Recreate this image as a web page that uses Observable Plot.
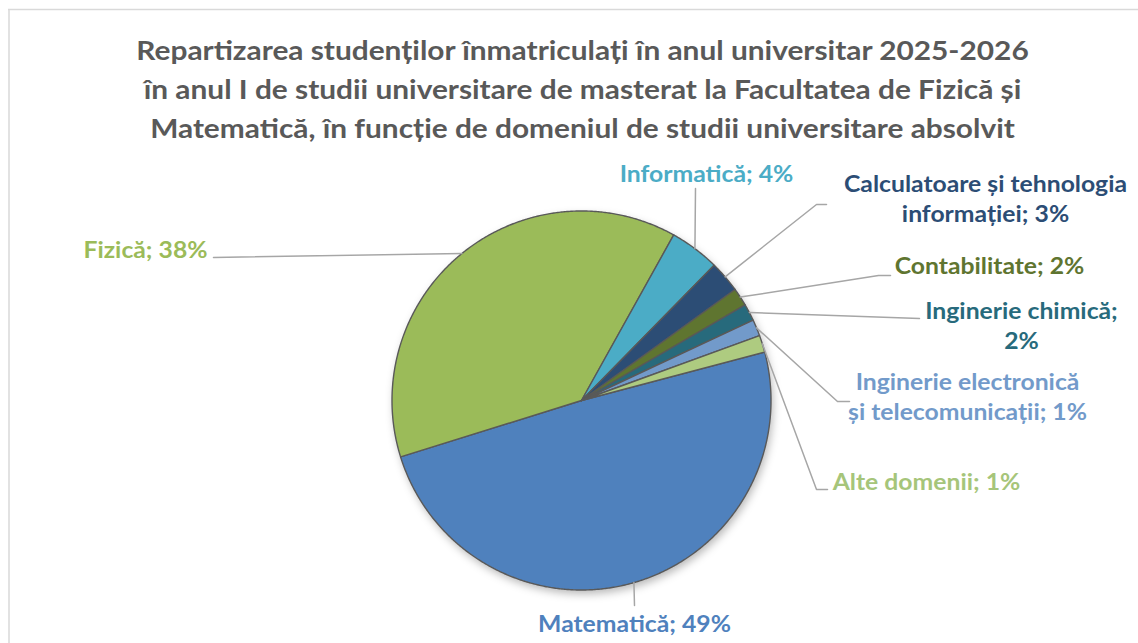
<!DOCTYPE html>
<html>
<head>
<meta charset="utf-8">
<script src="https://cdn.jsdelivr.net/npm/d3@7"></script>
<script src="https://cdn.jsdelivr.net/npm/@observablehq/plot@0.6"></script>
<style>
  html, body { margin: 0; padding: 0; background: #fff; }
  #chart svg { display: block; }
</style>
</head>
<body>
<div id="chart"></div>
<script>
// ---------------- DATA ----------------
const categories = [
  "Matematică",
  "Fizică",
  "Informatică",
  "Calculatoare și tehnologia informației",
  "Contabilitate",
  "Inginerie chimică",
  "Inginerie electronică și telecomunicații",
  "Alte domenii"
];
// slice sizes (share of students, %) as measured from the slice angles
const shares = [49.3, 37.9, 4.25, 2.7, 1.55, 1.45, 1.4, 1.45];
// percentages printed in the data labels
const labelPercents = [49, 38, 4, 3, 2, 2, 1, 1];
// label text lines (category name wrapped as in the picture)
const labelLines = [
  ["Matematică; {p}%"],
  ["Fizică; {p}%"],
  ["Informatică; {p}%"],
  ["Calculatoare și tehnologia", "informației; {p}%"],
  ["Contabilitate; {p}%"],
  ["Inginerie chimică;", "{p}%"],
  ["Inginerie electronică", "și telecomunicații; {p}%"],
  ["Alte domenii; {p}%"]
];
const titleLines = [
  "Repartizarea studenților înmatriculați în anul universitar 2025-2026",
  "în anul I de studii universitare de masterat la Facultatea de Fizică și",
  "Matematică, în funcție de domeniul de studii universitare absolvit"
];

// ---------------- STYLE / LAYOUT ----------------
const sliceColors = ["#4F81BD", "#9BBB59", "#4BACC6", "#2C4D75", "#5F7530", "#276A7C", "#729ACA", "#AECB80"];
const textColors  = ["#4F81BD", "#9BBB59", "#4BACC6", "#2C4D75", "#5F7530", "#276A7C", "#729ACA", "#A6C57A"];
const W = 1138, H = 643;
const pie = {cx: 581, cy: 400, r: 189.5, startDeg: 75.2};
const font = "Lato, 'Open Sans', sans-serif";
const labelSize = 23, titleSize = 27;
const labelStretch = 1.075, titleStretch = 1.105; // widen glyphs toward the Calibri look of the original
// leader elbows and label anchors (baseline of first line), per category
const labelLayout = [
  {path: [[634, 605]],             x: 634, y: 631, anchor: "middle"},
  {path: [[213, 257]],             x: 207, y: 257, anchor: "end"},
  {path: [[695, 188]],             x: 706, y: 181, anchor: "middle"},
  {path: [[816, 204], [826, 204]], x: 985, y: 191, anchor: "middle"},
  {path: [[878, 275], [890, 275]], x: 989, y: 273, anchor: "middle"},
  {path: [[919, 318]],             x: 1021, y: 318, anchor: "middle"},
  {path: [[837, 401], [849, 401]], x: 967, y: 389, anchor: "middle"},
  {path: [[816, 489], [827, 489]], x: 926, y: 489, anchor: "middle"}
];
const labelLineGap = 30;
const titleX = 582, titleY0 = 59, titleGap = 39;

// ---------------- BUILD ----------------
const rows = categories.map((name, i) => ({name, share: shares[i], pct: labelPercents[i], i}));
const toRad = Math.PI / 180;
const arcs = d3.pie().sort(null).value(d => d.share)
  .startAngle(pie.startDeg * toRad).endAngle(pie.startDeg * toRad + 2 * Math.PI)(rows);

const pt = (a, rr = pie.r) => [pie.cx + rr * Math.sin(a), pie.cy - rr * Math.cos(a)];

// slice polygons
const slicePts = [];
for (const a of arcs) {
  const n = Math.max(2, Math.ceil((a.endAngle - a.startAngle) / (0.4 * toRad)));
  slicePts.push({name: a.data.name, color: sliceColors[a.data.i], x: pie.cx, y: pie.cy});
  for (let k = 0; k <= n; k++) {
    const t = a.startAngle + (a.endAngle - a.startAngle) * k / n;
    const [x, y] = pt(t);
    slicePts.push({name: a.data.name, color: sliceColors[a.data.i], x, y});
  }
}
// shadow circle
const shadowPts = d3.range(0, 361, 1).map(d => {
  const [x, y] = pt(d * toRad);
  return {x: x + 2, y: y + 4};
});

// leader lines start at the rim at the slice mid-angle
const leaderPts = [];
arcs.forEach(a => {
  const mid = (a.startAngle + a.endAngle) / 2;
  const [x0, y0] = pt(mid);
  const L = labelLayout[a.data.i];
  leaderPts.push({name: a.data.name, x: x0, y: y0});
  for (const [x, y] of L.path) leaderPts.push({name: a.data.name, x, y});
});

// label text rows
const labelRows = [];
rows.forEach(r => {
  const L = labelLayout[r.i];
  labelLines[r.i].forEach((line, j) => {
    labelRows.push({
      text: line.replace("{p}", r.pct),
      x: L.x, y: L.y + j * labelLineGap, anchor: L.anchor, color: textColors[r.i]
    });
  });
});
const titleRows = titleLines.map((t, j) => ({text: t, x: titleX, y: titleY0 + j * titleGap}));

const chart = Plot.plot({
  width: W, height: H,
  margin: 0,
  x: {domain: [0, W], range: [0, W], axis: null},
  y: {domain: [0, H], range: [0, H], axis: null},
  color: {type: "identity"},
  style: {fontFamily: font, background: "#fff", overflow: "visible"},
  marks: [
    // chart area frame
    Plot.ruleX([8.5], {y1: 9, y2: H, stroke: "#d9d9d9", strokeWidth: 1.5}),
    Plot.ruleY([9], {x1: 8, x2: W, stroke: "#d9d9d9", strokeWidth: 1.5}),
    // shadow
    Plot.line(shadowPts, {x: "x", y: "y", fill: "#000", fillOpacity: 0.28, stroke: "none", curve: "linear-closed"}),
    // slices
    Plot.line(slicePts, {x: "x", y: "y", z: "name", fill: "color", stroke: "#595959", strokeWidth: 1.4,
      strokeLinejoin: "round", curve: "linear-closed"}),
    // leader lines
    Plot.line(leaderPts, {x: "x", y: "y", z: "name", stroke: "#a6a6a6", strokeWidth: 1.5}),
    // labels
    Plot.text(labelRows.filter(d => d.anchor === "middle"), {x: "x", y: "y", text: "text", fill: "color",
      textAnchor: "middle", lineAnchor: "bottom", fontSize: labelSize, fontWeight: "bold"}),
    Plot.text(labelRows.filter(d => d.anchor === "end"), {x: "x", y: "y", text: "text", fill: "color",
      textAnchor: "end", lineAnchor: "bottom", fontSize: labelSize, fontWeight: "bold"}),
    // title
    Plot.text(titleRows, {x: "x", y: "y", text: "text", fill: "#595959", textAnchor: "middle",
      lineAnchor: "bottom", fontSize: titleSize, fontWeight: "bold"})
  ]
});
document.getElementById("chart").appendChild(chart);

// soft blur for the shadow
const svg = d3.select(chart);
svg.insert("defs", ":first-child").append("filter").attr("id", "pieShadow")
  .attr("x", "-20%").attr("y", "-20%").attr("width", "140%").attr("height", "140%")
  .append("feGaussianBlur").attr("stdDeviation", 4);
const lineGroups = chart.querySelectorAll('g[aria-label="line"]');
if (lineGroups.length) lineGroups[0].setAttribute("filter", "url(#pieShadow)");

// widen text slightly (Calibri-like proportions)
const textGroups = chart.querySelectorAll('g[aria-label="text"]');
textGroups.forEach((g, gi) => {
  const k = gi === textGroups.length - 1 ? titleStretch : labelStretch;
  g.querySelectorAll("text").forEach(t => {
    const len = t.getComputedTextLength();
    if (len > 0) {
      t.setAttribute("textLength", (len * k).toFixed(1));
      t.setAttribute("lengthAdjust", "spacingAndGlyphs");
    }
  });
});
</script>
</body>
</html>
